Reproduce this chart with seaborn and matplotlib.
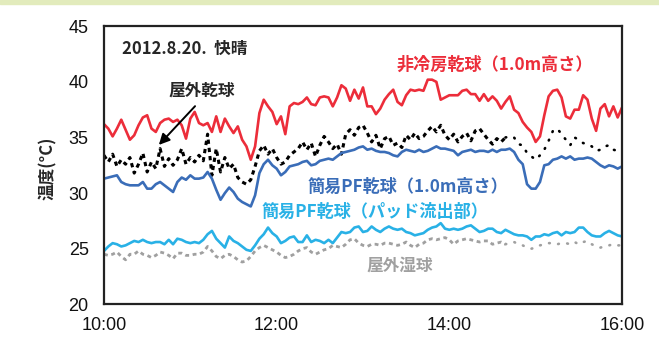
import numpy as np
import pandas as pd
import matplotlib
matplotlib.use("Agg")
import matplotlib.pyplot as plt
import matplotlib.dates as mdates
import seaborn as sns

# 3-minute readings, 10:00 - 16:00 (2012-08-20)
times = pd.date_range("2012-08-20 10:00", "2012-08-20 16:00", freq="3min")

red_dry = [36.2, 35.8, 35.1, 35.8, 36.6, 35.7, 34.8, 35.2, 36.1, 36.8, 37.0,
           35.8, 35.5, 36.3, 36.6, 36.7, 36.4, 36.6, 36.1, 34.9, 36.7, 37.3,
           36.3, 36.1, 36.3, 35.5, 36.9, 35.5, 36.7, 36.0, 35.4, 36.0, 34.8,
           34.2, 33.0, 34.2, 37.2, 38.4, 37.8, 37.3, 36.2, 36.9, 35.3, 37.8,
           38.1, 38.0, 38.2, 38.6, 38.0, 37.9, 38.6, 38.7, 38.6, 37.8, 38.6,
           39.7, 39.4, 38.3, 39.3, 38.5, 39.5, 37.8, 37.8, 37.1, 37.6, 38.4,
           38.9, 39.3, 38.2, 37.9, 38.8, 39.3, 39.2, 39.3, 39.2, 40.2, 40.2,
           40.0, 38.4, 38.6, 38.8, 38.8, 38.8, 39.2, 39.3, 38.9, 38.9, 38.3,
           38.9, 38.3, 38.7, 38.3, 37.6, 38.2, 38.7, 37.5, 37.2, 36.4, 35.9,
           35.5, 34.6, 35.1, 37.0, 38.7, 39.2, 39.3, 38.6, 36.9, 36.7, 37.5,
           37.5, 38.8, 38.4, 36.7, 35.6, 37.6, 38.0, 36.9, 37.8, 36.8, 37.7]

pf_dry = [31.3, 31.4, 31.5, 31.6, 31.0, 30.8, 30.7, 30.7, 30.7, 31.0, 30.4,
          30.4, 30.8, 31.0, 30.7, 30.4, 30.1, 31.0, 31.4, 31.2, 31.6, 31.3,
          31.3, 31.4, 31.9, 31.3, 30.3, 29.4, 30.0, 30.5, 30.1, 29.5, 29.2,
          29.0, 28.8, 29.8, 31.8, 32.6, 33.0, 32.5, 32.2, 31.6, 31.9, 32.4,
          32.5, 32.6, 32.8, 32.9, 32.5, 32.6, 32.9, 33.0, 33.1, 33.0, 33.3,
          33.6, 33.7, 33.8, 33.9, 34.1, 34.2, 33.9, 34.0, 33.8, 33.7, 33.7,
          33.6, 33.4, 33.3, 33.7, 33.9, 33.8, 33.7, 33.9, 33.7, 33.8, 34.0,
          34.2, 34.0, 34.0, 33.9, 33.8, 33.4, 33.7, 33.8, 33.9, 33.7, 33.8,
          33.8, 33.7, 33.9, 33.7, 33.9, 33.9, 34.0, 33.7, 33.0, 32.6, 30.8,
          30.4, 30.4, 31.0, 32.5, 32.6, 33.0, 33.1, 33.3, 33.1, 33.3, 33.0,
          33.1, 33.1, 33.2, 33.1, 32.8, 32.5, 32.3, 32.5, 32.4, 32.2, 32.4]

out_dry = [33.4, 32.8, 33.5, 32.4, 33.0, 32.6, 33.2, 31.8, 32.6, 33.6, 31.9,
           32.8, 32.2, 34.0, 32.4, 33.1, 32.5, 33.0, 34.0, 32.6, 33.2, 32.8,
           33.4, 32.9, 35.3, 31.6, 34.0, 31.9, 33.2, 32.2, 32.6, 31.4, 31.0,
           30.8, 31.2, 32.4, 33.8, 34.3, 33.5, 34.0, 33.2, 32.6, 32.8, 33.4,
           33.7, 34.0, 34.6, 33.9, 34.5, 33.3, 34.3, 35.1, 34.6, 34.0, 34.4,
           33.5, 35.3, 35.7, 35.2, 35.9, 36.1, 35.4, 34.6, 35.2, 34.0, 34.9,
           35.1, 34.3, 34.5, 34.1, 35.2, 34.8, 35.4, 34.9, 35.1, 35.6, 36.0,
           35.5, 36.1, 35.2, 34.8, 35.3, 34.6, 35.1, 35.4, 34.7, 35.6, 35.8,
           35.3, 34.8, 34.4, 34.9, 34.6, 35.0, 35.1, 35.0, 34.4, 34.3, 33.6,
           33.3, 33.0, 33.4, 33.9, 34.7, 35.6, 35.8, 35.3, 34.8, 34.3, 35.0,
           34.8, 34.5, 34.4, 34.2, 33.8, 33.9, 34.2, 34.3, 33.9, 33.8, 33.9]

pf_pad = [24.8, 25.2, 25.5, 25.4, 25.2, 25.3, 25.5, 25.7, 25.6, 25.8, 25.6,
          25.5, 25.6, 25.6, 25.4, 25.8, 25.4, 25.9, 25.8, 25.6, 25.5, 25.6,
          25.5, 25.8, 26.3, 26.6, 25.9, 25.5, 25.1, 26.1, 25.7, 25.5, 25.2,
          24.9, 24.8, 25.3, 25.9, 26.3, 26.9, 26.4, 26.1, 25.5, 25.7, 26.0,
          26.1, 25.6, 25.6, 26.2, 25.6, 25.8, 25.7, 25.5, 25.8, 25.5, 26.0,
          26.5, 26.4, 26.5, 26.9, 27.0, 26.5, 26.6, 27.0, 26.7, 26.5, 26.8,
          27.0, 26.8, 26.7, 26.8, 26.5, 26.4, 26.2, 26.3, 26.4, 26.7, 26.9,
          27.0, 27.3, 26.8, 26.7, 26.8, 26.7, 26.8, 27.0, 27.1, 26.8, 26.5,
          26.6, 26.8, 26.8, 26.5, 26.4, 26.7, 26.5, 26.3, 26.2, 26.2, 26.1,
          25.8, 26.1, 26.1, 26.3, 26.2, 26.4, 26.5, 26.2, 26.5, 26.4, 26.5,
          26.9, 26.9, 26.5, 26.2, 26.1, 26.1, 26.4, 26.6, 26.4, 26.2, 26.1]

out_wet = [24.5, 24.4, 24.5, 24.7, 24.3, 24.0, 24.5, 24.5, 24.8, 24.5, 24.4,
           24.2, 24.4, 24.7, 24.6, 24.4, 24.1, 24.6, 24.6, 24.4, 24.4, 24.5,
           24.5, 24.7, 25.2, 24.8, 24.3, 24.1, 24.4, 24.5, 24.3, 24.0, 23.8,
           23.9, 24.3, 24.8, 25.1, 25.3, 25.1, 24.9, 24.7, 24.4, 24.2, 24.3,
           24.5, 24.8, 25.0, 25.1, 24.7, 24.5, 24.7, 24.9, 25.0, 25.3, 25.2,
           25.1, 25.4, 25.8, 25.9, 25.5, 25.3, 25.2, 25.4, 25.4, 25.3, 25.5,
           25.5, 25.4, 25.3, 25.4, 25.6, 25.3, 25.1, 25.4, 25.5, 25.8, 25.9,
           25.8, 25.9, 26.0, 25.8, 25.4, 25.7, 25.8, 25.9, 25.8, 25.7, 25.6,
           25.7, 25.7, 25.4, 25.5, 25.6, 25.4, 25.5, 25.6, 25.4, 25.3, 25.1,
           25.0, 25.1, 25.3, 25.4, 25.5, 25.5, 25.4, 25.5, 25.5, 25.4, 25.6,
           25.4, 25.6, 25.7, 25.4, 25.2, 25.1, 25.2, 25.3, 25.4, 25.3, 25.3]

RED = "#ec2d3a"
BLUE = "#3a6db8"
CYAN = "#29b1e6"
GRAY = "#a0a0a0"
JP = ["Noto Sans CJK JP", "DejaVu Sans"]

sns.set_style("white")
plt.rcParams["font.family"] = ["Liberation Sans", "Noto Sans CJK JP"]

fig = plt.figure(figsize=(6.59, 3.45), dpi=100)
fig.patches.append(plt.Rectangle((0, 1 - 4 / 345), 1, 4 / 345, transform=fig.transFigure,
                                 color="#e2ebbc", zorder=0))
ax = fig.add_axes([104 / 659, 1 - 304.3 / 345, 518 / 659, 278 / 345])

split = 93  # logger switched to sparse readings after ~14:40
dense = (0, (1.4, 1.3))
sparse = (0, (0.3, 3.2))
sns.lineplot(x=times[:split + 1], y=out_wet[:split + 1], ax=ax, color=GRAY, lw=2.0,
             linestyle=dense, dash_capstyle="butt")
sns.lineplot(x=times[split:], y=out_wet[split:], ax=ax, color=GRAY, lw=1.9,
             linestyle=sparse, dash_capstyle="round")
sns.lineplot(x=times, y=pf_pad, ax=ax, color=CYAN, lw=1.9)
sns.lineplot(x=times[:split + 1], y=out_dry[:split + 1], ax=ax, color="black", lw=2.2,
             linestyle=dense, dash_capstyle="butt")
sns.lineplot(x=times[split:], y=out_dry[split:], ax=ax, color="black", lw=1.9,
             linestyle=sparse, dash_capstyle="round")
sns.lineplot(x=times, y=pf_dry, ax=ax, color=BLUE, lw=1.9)
sns.lineplot(x=times, y=red_dry, ax=ax, color=RED, lw=1.9)

ax.set_xlim(times[0], times[-1])
ax.set_ylim(20, 45)
ax.set_yticks(range(20, 46, 5))
ax.xaxis.set_major_locator(mdates.HourLocator(byhour=[10, 12, 14, 16]))
ax.xaxis.set_major_formatter(mdates.DateFormatter("%H:%M"))
ax.tick_params(direction="in", length=4, width=1, labelsize=13, color="#222222",
               labelcolor="#111111")
ax.tick_params(axis="y", pad=11)
ax.tick_params(axis="x", pad=9)
ax.set_xlabel("")
ax.set_ylabel("温度(°C)", family=JP, fontsize=12, fontweight="bold")
ax.yaxis.set_label_coords(-0.09, 0.49)
for side in ["left", "bottom", "top", "right"]:
    ax.spines[side].set_color("#222222")
    ax.spines[side].set_linewidth(1.6)


def minute(m):
    return times[0] + pd.Timedelta(minutes=m)


ax.text(minute(12.5), 43.0, "2012.8.20.  快晴", family=JP, fontsize=12,
        fontweight="bold", ha="left", va="center")
ax.text(minute(68), 39.2, "屋外乾球", family=JP, fontsize=12, fontweight="bold",
        ha="center", va="center")
ax.annotate("", xy=(minute(36.8), 34.15), xytext=(minute(64.6), 38.0),
            arrowprops=dict(arrowstyle="-|>", color="black", lw=1.4, mutation_scale=16))
ax.text(minute(271.5), 41.5, "非冷房乾球（1.0m高さ）", family=JP, fontsize=12.3,
        fontweight="bold", color=RED, ha="center", va="center")
ax.text(minute(211), 30.55, "簡易PF乾球（1.0m高さ）", family=JP, fontsize=12.3,
        fontweight="bold", color=BLUE, ha="center", va="center")
ax.text(minute(188), 28.3, "簡易PF乾球（パッド流出部）", family=JP, fontsize=12.3,
        fontweight="bold", color=CYAN, ha="center", va="center")
ax.text(minute(205.5), 23.5, "屋外湿球", family=JP, fontsize=12,
        fontweight="bold", color=GRAY, ha="center", va="center")

fig.savefig("out.png", dpi=100)
